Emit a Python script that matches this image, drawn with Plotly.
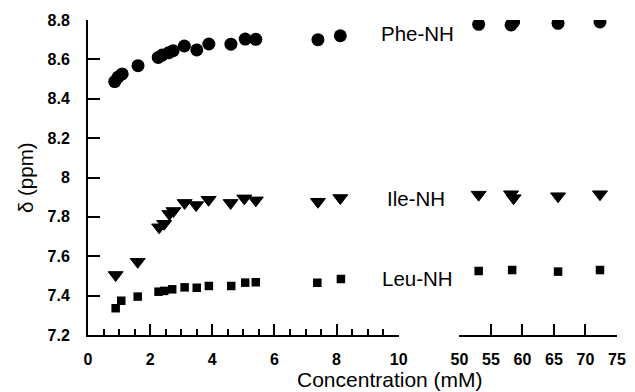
import plotly.graph_objects as go

# ---- data ----
phe_x_low = [0.86, 0.97, 1.10, 1.61, 2.26, 2.39, 2.60, 2.74, 3.10, 3.50, 3.89, 4.60, 5.06, 5.40, 7.40, 8.12]
phe_y_low = [8.487, 8.510, 8.526, 8.568, 8.610, 8.622, 8.634, 8.644, 8.668, 8.648, 8.678, 8.677, 8.703, 8.702, 8.700, 8.720]
phe_x_high = [53.06, 58.2, 58.6, 65.65, 72.3]
phe_y_high = [8.778, 8.775, 8.790, 8.783, 8.790]

ile_x_low = [0.89, 1.60, 2.29, 2.45, 2.62, 2.75, 3.11, 3.48, 3.88, 4.59, 5.03, 5.40, 7.40, 8.12]
ile_y_low = [7.505, 7.572, 7.747, 7.765, 7.815, 7.830, 7.871, 7.860, 7.887, 7.871, 7.894, 7.884, 7.877, 7.896]
ile_x_high = [53.06, 58.2, 58.6, 65.65, 72.3]
ile_y_high = [7.913, 7.915, 7.895, 7.905, 7.915]

leu_x_low = [0.89, 1.07, 1.60, 2.27, 2.45, 2.71, 3.11, 3.50, 3.89, 4.61, 5.06, 5.40, 7.38, 8.14]
leu_y_low = [7.336, 7.374, 7.395, 7.420, 7.424, 7.432, 7.442, 7.440, 7.449, 7.449, 7.466, 7.468, 7.466, 7.485]
leu_x_high = [53.06, 58.37, 65.65, 72.3]
leu_y_high = [7.525, 7.530, 7.522, 7.530]

y_ticks = [7.2, 7.4, 7.6, 7.8, 8.0, 8.2, 8.4, 8.6, 8.8]
y_ticktext = ["7.2", "7.4", "7.6", "7.8", "8", "8.2", "8.4", "8.6", "8.8"]
x_ticks_low = [0, 2, 4, 6, 8, 10]
x_ticks_high = [50, 55, 60, 65, 70, 75]

labels = ["Phe-NH", "Ile-NH", "Leu-NH"]

W, H = 635, 392
ML, MR, MT, MB = 88, 9, 20, 57
PW = W - ML - MR
PH = H - MT - MB

fig = go.Figure()

circ = dict(symbol="circle", size=13, color="black")
tri = dict(symbol="triangle-down", size=13, color="black", line=dict(width=1, color="black"))
sq = dict(symbol="square", size=8.5, color="black")

for xs, ys, mk, xa in [
    (phe_x_low, phe_y_low, circ, "x"), (phe_x_high, phe_y_high, circ, "x2"),
    (ile_x_low, ile_y_low, tri, "x"), (ile_x_high, ile_y_high, tri, "x2"),
    (leu_x_low, leu_y_low, sq, "x"), (leu_x_high, leu_y_high, sq, "x2"),
]:
    fig.add_trace(go.Scatter(x=xs, y=ys, mode="markers", marker=mk,
                             xaxis=xa, yaxis="y", showlegend=False))

tickfont = dict(family="Liberation Sans", size=16, color="black", weight="bold")
d1_end = (404 - ML) / PW
d2_start = (465.7 - ML) / PW

fig.update_layout(
    width=W, height=H,
    margin=dict(l=ML, r=MR, t=MT, b=MB),
    plot_bgcolor="white", paper_bgcolor="white",
    xaxis=dict(domain=[0, d1_end], range=[0, 10], tickvals=x_ticks_low,
               showline=True, linecolor="black", linewidth=2,
               ticks="inside", ticklen=11, tickwidth=2, tickcolor="black",
               minor=dict(dtick=0.5, ticks="inside", ticklen=6, tickwidth=2, tickcolor="black"),
               showgrid=False, zeroline=False, tickfont=tickfont, anchor="y",
               ticklabelstandoff=9),
    xaxis2=dict(domain=[d2_start, 1], range=[50, 75], tickvals=x_ticks_high,
                showline=True, linecolor="black", linewidth=2,
                ticks="inside", ticklen=11, tickwidth=2, tickcolor="black",
                showgrid=False, zeroline=False, tickfont=tickfont, anchor="y",
                ticklabelstandoff=9),
    yaxis=dict(range=[7.2, 8.8], tickvals=y_ticks, ticktext=y_ticktext,
               showline=True, linecolor="black", linewidth=2,
               ticks="inside", ticklen=12, tickwidth=2, tickcolor="black",
               showgrid=False, zeroline=False, tickfont=tickfont,
               ticklabelstandoff=13),
)

label_font = dict(family="Liberation Sans", size=20.5, color="black")
label_px = [(423.5, 33.7), (422, 198.7), (423.5, 278.7)]
for txt, (px, py) in zip(labels, label_px):
    fig.add_annotation(text=txt, xref="paper", yref="paper",
                       x=(px - ML) / PW, y=1 - (py - MT) / PH,
                       xanchor="center", yanchor="middle", showarrow=False,
                       font=label_font)

fig.add_annotation(text="Concentration (mM)", xref="paper", yref="paper",
                   x=(395 - ML) / PW, y=1 - (379 - MT) / PH,
                   xanchor="center", yanchor="middle", showarrow=False,
                   font=dict(family="Liberation Sans", size=21, color="black"))
fig.add_annotation(text="δ (ppm)", xref="paper", yref="paper",
                   x=(24 - ML) / PW, y=1 - (178 - MT) / PH,
                   xanchor="center", yanchor="middle", showarrow=False,
                   textangle=-90, font=label_font)

fig.write_html("out.html", config={"displayModeBar": False},
               post_script="document.body.style.margin='0px';document.body.style.overflow='hidden';")
